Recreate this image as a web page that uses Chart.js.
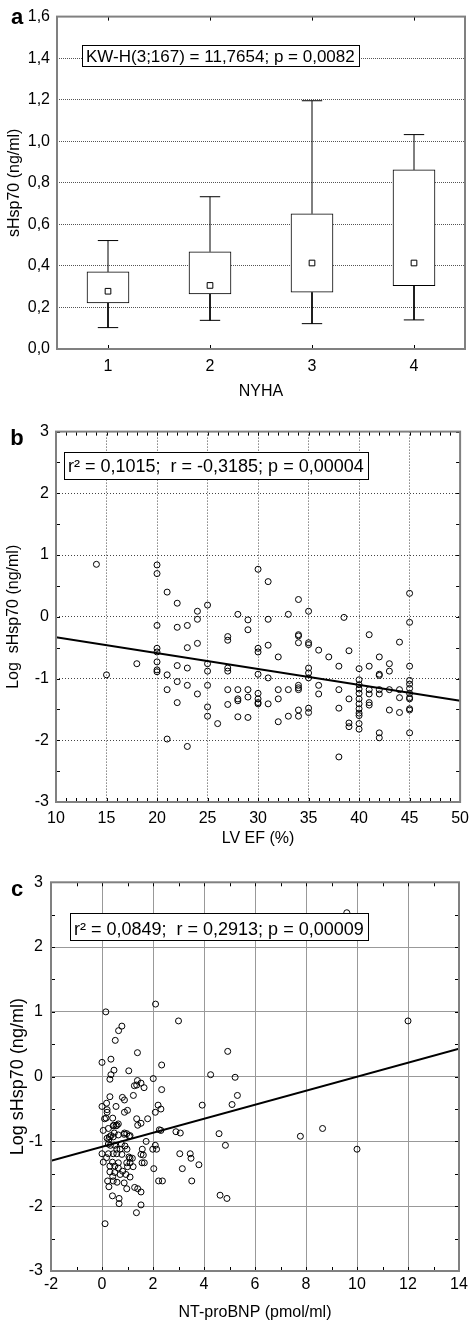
<!DOCTYPE html>
<html>
<head>
<meta charset="utf-8">
<title>sHsp70 vs NYHA, LV EF and NT-proBNP</title>
<script src="https://cdn.jsdelivr.net/npm/chart.js@4.4.1/dist/chart.umd.min.js"></script>
<style>
  html, body { margin: 0; padding: 0; background: #fff; }
  #page { position: relative; width: 476px; height: 1322px; }
  #page canvas { position: absolute; left: 0; }
</style>
</head>
<body>
<div id="page">
  <canvas id="panelA" width="476" height="410" style="top:0"></canvas>
  <canvas id="panelB" width="476" height="435" style="top:415px"></canvas>
  <canvas id="panelC" width="476" height="467" style="top:855px"></canvas>
</div>
<script>
// ---- panel a: sHsp70 by NYHA class (box plot) ----
const nyhaClass   = [1, 2, 3, 4];
const whiskerLow  = [0.103, 0.138, 0.122, 0.14];
const boxLow      = [0.222, 0.265, 0.273, 0.305];
const medians     = [0.278, 0.306, 0.414, 0.414];
const boxHigh     = [0.371, 0.468, 0.651, 0.862];
const whiskerHigh = [0.522, 0.733, 1.195, 1.032];
const nyhaTicks   = [0, 0.2, 0.4, 0.6, 0.8, 1.0, 1.2, 1.4, 1.6];

// ---- panel b: log sHsp70 vs LV EF ----
const efTicks = [10, 15, 20, 25, 30, 35, 40, 45, 50];
const efPoints = [
  [14,0.85],[15,-0.94],[18,-0.76],
  [20,0.84],[20,0.70],[20,-0.14],[20,-0.51],[20,-0.57],[20,-0.73],[20,-0.86],[20,-0.89],
  [21,0.40],[21,-0.94],[21,-1.18],[21,-1.98],
  [22,0.22],[22,-0.17],[22,-0.79],[22,-1.05],[22,-1.39],
  [23,-0.14],[23,-0.50],[23,-0.83],[23,-1.11],[23,-2.10],
  [24,0.09],[24,-0.04],[24,-0.43],[24,-1.25],
  [25,0.19],[25,-0.76],[25,-0.88],[25,-1.11],[25,-1.46],[25,-1.61],
  [26,-1.73],
  [27,-0.32],[27,-0.38],[27,-0.83],[27,-0.88],[27,-1.18],[27,-1.42],
  [28,0.04],[28,-1.18],[28,-1.33],[28,-1.36],[28,-1.62],
  [29,-0.05],[29,-0.21],[29,-1.18],[29,-1.30],[29,-1.63],
  [30,0.77],[30,-0.51],[30,-0.57],[30,-0.93],[30,-1.24],[30,-1.33],[30,-1.39],[30,-1.41],
  [31,0.57],[31,-0.04],[31,-0.46],[31,-0.99],[31,-1.41],
  [32,-0.65],[32,-1.18],[32,-1.33],[32,-1.70],
  [33,0.04],[33,-1.18],[33,-1.61],
  [34,0.28],[34,-0.29],[34,-0.31],[34,-0.42],[34,-1.11],[34,-1.15],[34,-1.18],[34,-1.51],[34,-1.61],
  [35,0.09],[35,-0.42],[35,-0.45],[35,-0.83],[35,-0.91],[35,-0.99],[35,-1.48],[35,-1.55],
  [36,-0.54],[36,-1.11],[36,-1.25],
  [37,-0.65],
  [38,-0.80],[38,-1.18],[38,-1.48],[38,-2.27],[38.5,-0.01],
  [39,-0.55],[39,-1.33],[39,-1.72],[39,-1.78],
  [40,-0.84],[40,-1.02],[40,-1.10],[40,-1.17],[40,-1.24],[40,-1.33],[40,-1.41],[40,-1.49],[40,-1.56],[40,-1.60],[40,-1.73],[40,-1.82],
  [41,-0.29],[41,-0.80],[41,-1.18],[41,-1.25],[41,-1.39],[41,-1.43],
  [42,-0.65],[42,-0.93],[42,-0.95],[42,-1.18],[42,-1.25],[42,-1.88],[42,-1.96],
  [43,-0.76],[43,-0.88],[43,-1.18],[43,-1.51],
  [44,-0.41],[44,-1.18],[44,-1.31],[44,-1.55],
  [45,0.38],[45,-0.09],[45,-0.80],[45,-1.03],[45,-1.09],[45,-1.16],[45,-1.24],[45,-1.31],[45,-1.33],[45,-1.49],[45,-1.51],[45,-1.88]
];
const efFit = [[10, -0.33], [50, -1.36]];

// ---- panel c: log sHsp70 vs NT-proBNP ----
const bnpTicks = [-2, 0, 2, 4, 6, 8, 10, 12, 14];
const bnpPoints = [
  [0.15,1.0],[2.1,1.12],[3.0,0.86],[12,0.86],[0.78,0.78],[0.65,0.71],[0.52,0.56],[0.0,0.22],[0.35,0.27],
  [1.39,0.37],[4.93,0.39],[2.34,0.18],[0.47,0.10],[1.05,0.09],[0.35,0.03],[0.31,-0.04],[4.26,0.03],
  [5.22,-0.01],[2.01,-0.03],[1.39,-0.06],[1.53,-0.10],[1.27,-0.14],[1.36,-0.13],[1.65,-0.17],[2.34,-0.20],
  [1.23,-0.29],[5.31,-0.29],[0.31,-0.31],[0.80,-0.32],[0.88,-0.36],[0.55,-0.46],[0.0,-0.46],[0.18,-0.41],
  [3.93,-0.44],[5.10,-0.43],[2.20,-0.44],[2.31,-0.50],[2.09,-0.55],[0.2,-0.51],[0.2,-0.55],[0.88,-0.55],
  [1.0,-0.52],[0.16,-0.64],[0.42,-0.64],[1.36,-0.65],[1.79,-0.65],[1.53,-0.72],[1.40,-0.75],[0.64,-0.73],
  [0.55,-0.76],[0.44,-0.76],[0.05,-0.83],[0.25,-0.80],[2.9,-0.85],[3.07,-0.87],[4.59,-0.88],[8.65,-0.80],
  [7.78,-0.92],[2.25,-0.82],[2.31,-0.83],[0.88,-0.87],[0.97,-0.88],[1.1,-0.91],[0.48,-0.87],[0.35,-0.91],
  [0.29,-0.93],[10,-1.12],[4.84,-1.06],[3.05,-1.19],[3.46,-1.19],[3.49,-1.26],[3.80,-1.36],[3.15,-1.42],
  [3.52,-1.61],[2.22,-1.61],[2.37,-1.61],[2.03,-1.42],[1.99,-1.12],[2.14,-1.12],[2.09,-1.06],[1.73,-1.0],
  [4.63,-1.83],[4.9,-1.88],[1.53,-1.98],[1.35,-2.10],[0.12,-2.27],[0.67,-1.88],[0.67,-1.96],[0.41,-1.84],
  [1.53,-1.78],[1.40,-1.73],[1.28,-1.71],[0.97,-1.73],[0.87,-1.64],[0.59,-1.63],[0.44,-1.61],[0.22,-1.61],
  [0.27,-1.70],[1.10,-1.55],[0.94,-1.51],[0.71,-1.51],[0.42,-1.54],[1.57,-1.33],[1.66,-1.33],[1.53,-1.20],
  [1.62,-1.21],[1.58,-1.12],[1.22,-1.39],[1.10,-1.33],[0.97,-1.33],[1.19,-1.26],[1.06,-1.24],[0.78,-1.20],
  [0.58,-1.19],[0.44,-1.19],[0.25,-1.19],[0.0,-1.19],[0.18,-1.25],[0.05,-1.32],[0.41,-1.32],[0.64,-1.33],
  [0.31,-1.38],[0.50,-1.38],[0.64,-1.41],[0.31,-1.47],[0.50,-1.48],[0.81,-1.46],[1.0,-1.39],[1.10,-1.26],
  [0.71,-1.12],[0.90,-1.07],[0.98,-1.12],[0.58,-1.12],[0.50,-1.06],[0.33,-1.06],[0.2,-0.95],[0.27,-0.97],
  [0.44,-0.93],[0.64,-0.90],[0.87,-0.89],[1.07,-0.92],[0.76,-1.04],[0.25,-1.04],[0.10,-0.65],[0.46,-0.75],
  [0.59,-0.75],[9.6,2.53]
];
const bnpFit = [[-2, -1.30], [14, 0.43]];
const logTicks = [-3, -2, -1, 0, 1, 2, 3];

const FONT = '"Liberation Sans", Arial, sans-serif';
Chart.defaults.font.family = FONT;
Chart.defaults.color = '#000';
Chart.defaults.animation = false;

const toXY = (pairs) => pairs.map(([x, y]) => ({ x, y }));
const useTicks = (values) => (scale) => { scale.ticks = values.map(v => ({ value: v })); };
const fixWidth = (w) => (scale) => { scale.width = w; };
const fixHeight = (h) => (scale) => { scale.height = h; };

// frame, inward minor ticks, statistics box and panel letter
const panelDecor = {
  id: 'panelDecor',
  afterDatasetsDraw(chart, args, opts) {
    const { ctx, chartArea: area, scales: { x, y } } = chart;
    ctx.save();
    ctx.strokeStyle = '#000';
    ctx.lineWidth = 1;
    ctx.beginPath();
    if (opts.xMinor) {
      for (let v = Math.ceil(x.min / opts.xMinor) * opts.xMinor; v <= x.max + 1e-9; v += opts.xMinor) {
        const px = Math.round(x.getPixelForValue(v)) + 0.5;
        ctx.moveTo(px, area.top); ctx.lineTo(px, area.top + 4);
        ctx.moveTo(px, area.bottom); ctx.lineTo(px, area.bottom - 4);
      }
    }
    if (opts.yMinor) {
      for (let v = Math.ceil(y.min / opts.yMinor) * opts.yMinor; v <= y.max + 1e-9; v += opts.yMinor) {
        const py = Math.round(y.getPixelForValue(v)) + 0.5;
        ctx.moveTo(area.left, py); ctx.lineTo(area.left + 4, py);
        ctx.moveTo(area.right, py); ctx.lineTo(area.right - 4, py);
      }
    }
    ctx.stroke();

    ctx.strokeStyle = '#808080';
    ctx.lineWidth = 2;
    ctx.strokeRect(area.left, area.top, area.width, area.height);

    ctx.font = opts.noteFont;
    const w = Math.round(ctx.measureText(opts.note).width) + 8;
    ctx.fillStyle = '#fff';
    ctx.fillRect(opts.noteX, opts.noteY, w, opts.noteH);
    ctx.strokeStyle = '#000';
    ctx.lineWidth = 1;
    ctx.strokeRect(opts.noteX + 0.5, opts.noteY + 0.5, w, opts.noteH);
    ctx.fillStyle = '#000';
    ctx.textAlign = 'left';
    ctx.textBaseline = 'alphabetic';
    ctx.fillText(opts.note, opts.noteX + 4, opts.noteY + opts.noteBase);

    ctx.font = 'bold 22px ' + FONT;
    ctx.textAlign = 'center';
    ctx.fillText(opts.letter, 17, opts.letterY);
    ctx.restore();
  }
};

const noPlugins = { legend: { display: false }, tooltip: { enabled: false } };

// ---- panel a ----
const CAP = 0.1;
const whiskerLines = [];
nyhaClass.forEach((c, i) => {
  whiskerLines.push({ x: c, y: boxHigh[i] }, { x: c, y: whiskerHigh[i] }, { x: c, y: null });
  whiskerLines.push({ x: c, y: boxLow[i] }, { x: c, y: whiskerLow[i] }, { x: c, y: null });
  whiskerLines.push({ x: c - CAP, y: whiskerHigh[i] }, { x: c + CAP, y: whiskerHigh[i] }, { x: c, y: null });
  whiskerLines.push({ x: c - CAP, y: whiskerLow[i] }, { x: c + CAP, y: whiskerLow[i] }, { x: c, y: null });
});

new Chart(document.getElementById('panelA'), {
  type: 'scatter',
  data: {
    datasets: [
      {
        type: 'scatter',
        data: nyhaClass.map((c, i) => ({ x: c, y: medians[i] })),
        pointStyle: 'rect',
        pointRadius: 4,
        backgroundColor: '#fff',
        borderColor: '#000',
        borderWidth: 1
      },
      {
        type: 'bar',
        data: nyhaClass.map((c, i) => ({ x: c, y: [boxLow[i], boxHigh[i]] })),
        backgroundColor: '#fff',
        borderColor: '#000',
        borderWidth: 1,
        borderSkipped: false,
        barThickness: 42
      },
      {
        type: 'line',
        data: whiskerLines,
        borderColor: '#000',
        borderWidth: 1,
        pointRadius: 0,
        spanGaps: false
      }
    ]
  },
  options: {
    responsive: false,
    devicePixelRatio: 1,
    events: [],
    layout: { padding: { top: 13, right: 11, left: 0, bottom: 0 } },
    plugins: {
      ...noPlugins,
      panelDecor: {
        xMinor: 1,
        note: 'KW-H(3;167) = 11,7654; p = 0,0082',
        noteFont: '17px ' + FONT,
        noteX: 82, noteY: 45, noteH: 21, noteBase: 17,
        letter: 'a', letterY: 24
      }
    },
    scales: {
      x: {
        type: 'linear',
        min: 0.5,
        max: 4.5,
        offset: false,
        afterBuildTicks: useTicks(nyhaClass),
        afterFit: fixHeight(61),
        ticks: { autoSkip: false, padding: 8, font: { size: 16 }, callback: v => String(v) },
        grid: { display: false, drawTicks: false },
        border: { display: false },
        title: { display: true, text: 'NYHA', font: { size: 16 }, padding: { top: 0, bottom: 9 } }
      },
      y: {
        min: 0,
        max: 1.6,
        afterBuildTicks: useTicks(nyhaTicks),
        afterFit: fixWidth(57),
        ticks: { padding: 7, font: { size: 16 }, callback: v => v.toFixed(1).replace('.', ',') },
        grid: { color: '#555', lineWidth: 1, drawTicks: false },
        border: { display: false, dash: [1, 1] },
        title: { display: true, text: 'sHsp70 (ng/ml)', font: { size: 16 }, padding: { top: 5, bottom: 0 } }
      }
    }
  },
  plugins: [panelDecor]
});

// ---- panels b and c: scatter with regression line ----
function scatterPanel(canvasId, cfg) {
  return new Chart(document.getElementById(canvasId), {
    type: 'scatter',
    data: {
      datasets: [
        {
          type: 'line',
          data: toXY(cfg.fit),
          borderColor: '#000',
          borderWidth: 2,
          pointRadius: 0,
          tension: 0
        },
        {
          type: 'scatter',
          data: toXY(cfg.points),
          pointRadius: 3,
          backgroundColor: 'rgba(0,0,0,0)',
          borderColor: '#000',
          borderWidth: 1
        }
      ]
    },
    options: {
      responsive: false,
      devicePixelRatio: 1,
      events: [],
      layout: { padding: { top: cfg.padTop, right: cfg.padRight, left: 0, bottom: 0 } },
      plugins: { ...noPlugins, panelDecor: cfg.decor },
      scales: {
        x: {
          type: 'linear',
          min: cfg.xTicks[0],
          max: cfg.xTicks[cfg.xTicks.length - 1],
          afterBuildTicks: useTicks(cfg.xTicks),
          afterFit: fixHeight(cfg.xHeight),
          ticks: { autoSkip: false, padding: cfg.xTickPad, font: { size: 16 }, callback: v => String(v) },
          grid: { color: cfg.gridColor, lineWidth: 1, drawTicks: false },
          border: { display: false, dash: cfg.gridDash },
          title: { display: true, text: cfg.xTitle, font: { size: 16 }, padding: { top: 0, bottom: cfg.xTitlePad } }
        },
        y: {
          min: -3,
          max: 3,
          afterBuildTicks: useTicks(logTicks),
          afterFit: fixWidth(cfg.yWidth),
          ticks: { padding: cfg.yTickPad, font: { size: 16 }, callback: v => String(v) },
          grid: { color: cfg.gridColor, lineWidth: 1, drawTicks: false },
          border: { display: false, dash: cfg.gridDash },
          title: { display: true, text: cfg.yTitle, font: { size: cfg.yTitleSize }, padding: { top: cfg.yTitlePad, bottom: 0 } }
        }
      }
    },
    plugins: [panelDecor]
  });
}

scatterPanel('panelB', {
  points: efPoints, fit: efFit, xTicks: efTicks,
  padTop: 15.4, padRight: 11, yWidth: 56, xHeight: 48,
  xTickPad: 7, yTickPad: 7,
  gridColor: '#444', gridDash: [1, 2],
  xTitle: 'LV EF (%)', xTitlePad: 2,
  yTitle: 'Log  sHsp70 (ng/ml)', yTitleSize: 16, yTitlePad: 4,
  decor: {
    xMinor: 1, yMinor: 0.5,
    note: 'r\u00b2 = 0,1015;  r = -0,3185; p = 0,00004',
    noteFont: '18px ' + FONT,
    noteX: 64, noteY: 37, noteH: 27, noteBase: 20,
    letter: 'b', letterY: 30
  }
});

scatterPanel('panelC', {
  points: bnpPoints, fit: bnpFit, xTicks: bnpTicks,
  padTop: 27.3, padRight: 17, yWidth: 51, xHeight: 51,
  xTickPad: 4, yTickPad: 8,
  gridColor: '#999', gridDash: [],
  xTitle: 'NT-proBNP (pmol/ml)', xTitlePad: 0,
  yTitle: 'Log sHsp70 (ng/ml)', yTitleSize: 18, yTitlePad: 7,
  decor: {
    xMinor: 1, yMinor: 0.5,
    note: 'r\u00b2 = 0,0849;  r = 0,2913; p = 0,00009',
    noteFont: '18px ' + FONT,
    noteX: 70, noteY: 58, noteH: 27, noteBase: 22,
    letter: 'c', letterY: 41
  }
});
</script>
</body>
</html>
